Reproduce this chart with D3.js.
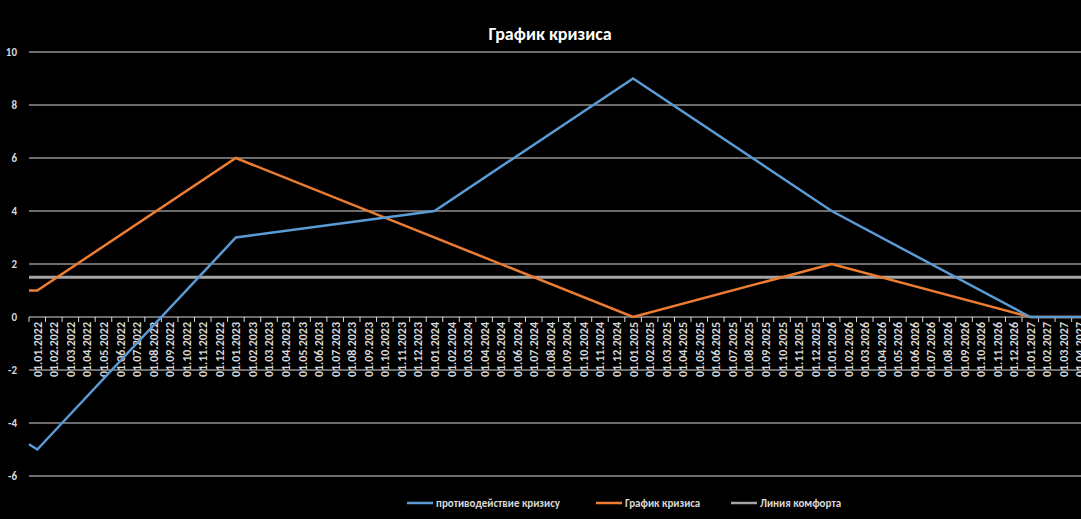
<!DOCTYPE html><html><head><meta charset="utf-8">
<script src="https://cdn.jsdelivr.net/npm/d3@7"></script>
<style>body{margin:0;background:#000}svg{display:block}text{font-family:Calibri,Carlito,"Liberation Sans","Open Sans",sans-serif}</style>
</head><body><svg id="c" width="1081" height="519"></svg>
<script>
const months=[];
for(let y=2022;y<=2027;y++)for(let m=1;m<=12;m++){months.push("01."+String(m).padStart(2,"0")+"."+y);}
const monthLabels=months.slice(0,64);
const blueX=[-0.5,0,12,24,36,48,60,64];
const blueY=[-4.8,-5,3,4,9,4,0,0];
const orangeX=[-0.5,0,12,36,48,60,64];
const orangeY=[1,1,6,0,2,0,0];
const comfort=1.5;
const yTicks=[-6,-4,-2,0,2,4,6,8,10];
const svg=d3.select("#c");
svg.append("rect").attr("width",1081).attr("height",519).attr("fill","#000");
const x=d3.scaleLinear().domain([-0.5,63.5]).range([29,29+64*16.55]);
const y=d3.scaleLinear().domain([-6,10]).range([476,52]);
const g=svg.append("g");
yTicks.forEach(t=>{
 if(t!==0)g.append("line").attr("x1",29).attr("x2",1081).attr("y1",y(t)).attr("y2",y(t)).attr("stroke","#d9d9d9").attr("stroke-width",1);
 svg.append("text").attr("x",17).attr("y",y(t)+4).attr("text-anchor","end").attr("fill","#d9d9d9").attr("font-size",11).attr("font-weight","bold").text(t);
});
g.append("line").attr("x1",29).attr("x2",1081).attr("y1",y(0)).attr("y2",y(0)).attr("stroke","#d9d9d9");
monthLabels.forEach((m,i)=>{
 g.append("line").attr("x1",x(i-0.5)).attr("x2",x(i-0.5)).attr("y1",y(0)).attr("y2",y(0)+5).attr("stroke","#d9d9d9");
 g.append("text").attr("transform",`translate(${x(i)+4.5},${y(0)+5}) rotate(-90)`).attr("text-anchor","end").attr("fill","#d9d9d9").attr("font-size",12).attr("font-weight","bold").text(m);
});
g.append("line").attr("x1",29).attr("x2",1081).attr("y1",y(comfort)).attr("y2",y(comfort)).attr("stroke","#a5a5a5").attr("stroke-width",3);
const line=d3.line().x(d=>x(d[0])).y(d=>y(d[1]));
g.append("path").datum(orangeX.map((v,i)=>[v,orangeY[i]])).attr("d",line).attr("fill","none").attr("stroke","#ed7d31").attr("stroke-width",2.5);
g.append("path").datum(blueX.map((v,i)=>[v,blueY[i]])).attr("d",line).attr("fill","none").attr("stroke","#5b9bd5").attr("stroke-width",2.5);
svg.append("text").attr("x",550).attr("y",40).attr("text-anchor","middle").attr("fill","#fff").attr("font-size",18).attr("font-weight","bold").text("График кризиса");
const leg=[["противодействие кризису","#5b9bd5",407],["График кризиса","#ed7d31",596],["Линия комфорта","#a5a5a5",731]];
leg.forEach(([t,c,lx])=>{
 svg.append("line").attr("x1",lx).attr("x2",lx+26).attr("y1",503).attr("y2",503).attr("stroke",c).attr("stroke-width",2.5);
 svg.append("text").attr("x",lx+29).attr("y",507).attr("fill","#d9d9d9").attr("font-size",11).attr("font-weight","bold").text(t);
});
</script></body></html>
